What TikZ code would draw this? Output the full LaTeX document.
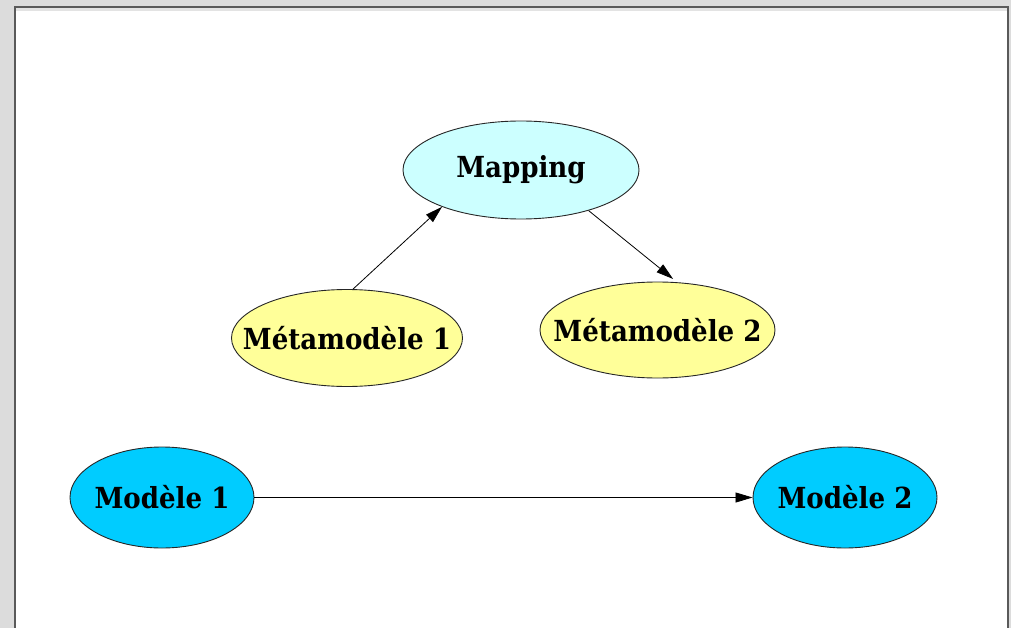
\documentclass[tikz,border=0pt]{standalone}
\usepackage{fontspec}
\setmainfont[FakeStretch=0.9]{DejaVu Serif}
\usetikzlibrary{shapes.geometric,arrows.meta}
\definecolor{pagegray}{HTML}{DCDCDC}
\definecolor{framegray}{HTML}{5A5A5A}
\definecolor{mapfill}{HTML}{CCFFFF}
\definecolor{metafill}{HTML}{FFFF99}
\definecolor{modelfill}{HTML}{00CCFF}
\tikzset{
  caption/.style={inner sep=0pt, font=\fontsize{29}{33}\selectfont\bfseries},
  bubble/.style={ellipse, draw=black!85, line width=0.9pt, inner sep=0pt,
    label={[caption]center:#1}},
  mapbox/.style={bubble=#1, fill=mapfill, minimum width=236pt, minimum height=98pt},
  metabox/.style={bubble=#1, fill=metafill, minimum width=231pt, minimum height=97pt},
  modelbox/.style={bubble=#1, fill=modelfill, minimum width=184pt, minimum height=101pt},
  link/.style={line width=0.8pt, -{Triangle[length=17pt,width=10pt]}}
}
\begin{document}
\begin{tikzpicture}[x=1pt,y=-1pt]
  % page and canvas frame
  \fill[pagegray] (0,0) rectangle (1011,628);
  \useasboundingbox (0,0) rectangle (1011,628);
  \fill[white] (15,7) rectangle (1008,628);
  \fill[pagegray!80!white] (16,8) rectangle (1007,11);
  \draw[framegray, line width=2pt] (15,628) -- (15,7) -- (1008,7) -- (1008,628);

  % concepts
  \node[mapbox=Mapping]          (map)   at (521,170) {};
  \node[metabox=Métamodèle 1]    (meta1) at (347,338) {};
  \node[metabox=Métamodèle 2, minimum width=235pt, minimum height=96pt] (meta2) at (657.5,330) {};
  \node[modelbox=Modèle 1]       (mod1)  at (162,497.5) {};
  \node[modelbox=Modèle 2]       (mod2)  at (845,497.5) {};

  % relations
  \draw[link] (meta1.83) -- (map.205.5);
  \draw[link] (map.-31) -- ([yshift=3pt]meta2.72);
  \draw[link] (mod1.east) -- (mod2.west);
\end{tikzpicture}
\end{document}
